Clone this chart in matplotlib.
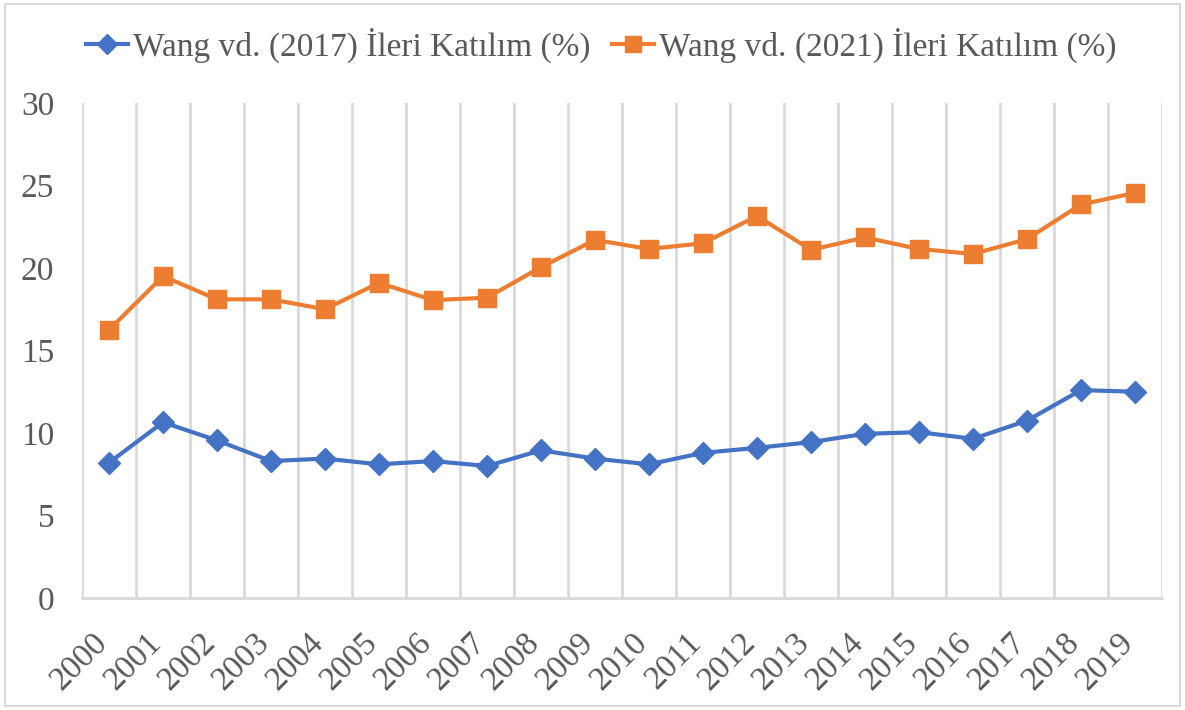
import matplotlib.pyplot as plt
from matplotlib.patches import Rectangle
from matplotlib.transforms import ScaledTranslation

years = [str(y) for y in range(2000, 2020)]
wang_2017 = [8.2, 10.65, 9.55, 8.3, 8.45, 8.1, 8.3, 8.0, 8.95, 8.45,
             8.1, 8.8, 9.1, 9.45, 9.95, 10.05, 9.65, 10.75, 12.6, 12.5]
wang_2021 = [16.25, 19.5, 18.1, 18.1, 17.5, 19.1, 18.05, 18.2, 20.05, 21.7,
             21.15, 21.5, 23.15, 21.1, 21.85, 21.15, 20.85, 21.75, 23.85, 24.55]

plt.rcParams['font.family'] = ['Liberation Serif', 'DejaVu Serif']
text_color = '#595959'
grid_color = '#d9d9d9'

fig = plt.figure(figsize=(11.85, 7.10), dpi=100)
ax = fig.add_axes([0.0692, 0.1577, 0.9114, 0.6973])

x = list(range(len(years)))
ax.plot(x, wang_2017, color='#4472c4', lw=3, marker='D', ms=11.5,
        label='Wang vd. (2017) İleri Katılım (%)')
ax.plot(x, wang_2021, color='#ed7d31', lw=3, marker='s', ms=13,
        label='Wang vd. (2021) İleri Katılım (%)')

ax.set_xlim(-0.5, len(years) - 0.5)
ax.set_ylim(0, 30)
ax.set_yticks(range(0, 31, 5))
ax.set_xticks(x)
ax.set_xticklabels(years, rotation=45, ha='right', rotation_mode='anchor')
ax.set_xticks([i - 0.5 for i in range(len(years) + 1)], minor=True)
ax.grid(axis='x', which='minor', color=grid_color, lw=2)
ax.grid(axis='x', which='major', visible=False)
ax.set_axisbelow(True)

for side in ['left', 'right', 'top']:
    ax.spines[side].set_visible(False)
ax.spines['bottom'].set_color(grid_color)
ax.spines['bottom'].set_linewidth(2)

ax.tick_params(axis='both', which='both', length=0, colors=text_color, labelsize=24)
ax.tick_params(axis='y', pad=20)
ax.tick_params(axis='x', pad=12)

# push the rotated year labels a bit down-left, like the original
shift = ScaledTranslation(-12 / 72, -9 / 72, fig.dpi_scale_trans)
for lbl in ax.get_xticklabels():
    lbl.set_transform(lbl.get_transform() + shift)

ax.legend(loc='lower center', bbox_to_anchor=(0.481, 1.02), ncol=2, frameon=False,
          fontsize=24, labelcolor=text_color, handlelength=1.25, handletextpad=0.15,
          columnspacing=0.65, markerscale=0.9)

fig.add_artist(Rectangle((0.004, 0.005), 0.992, 0.99, transform=fig.transFigure,
                         fill=False, edgecolor=grid_color, lw=1.5))

fig.savefig('out.png', dpi=100)
